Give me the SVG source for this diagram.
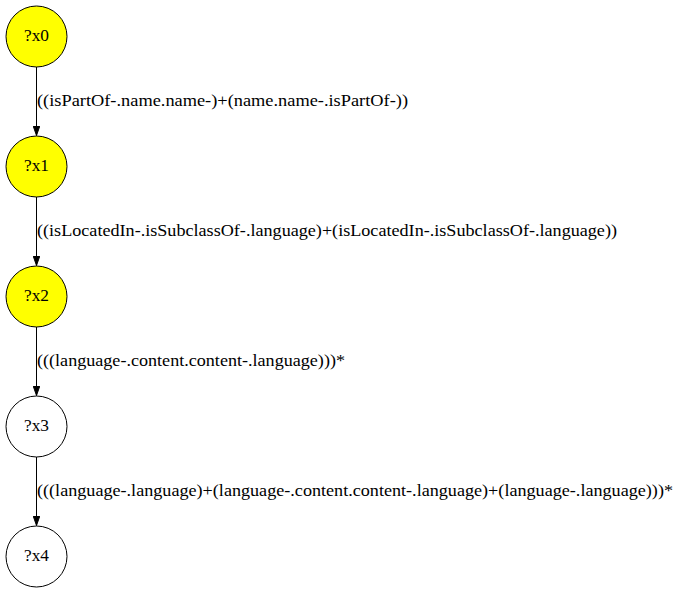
<svg xmlns="http://www.w3.org/2000/svg" width="679" height="595" viewBox="0 0 679 595">
<defs>
<marker id="arr" markerWidth="10" markerHeight="7" refX="10" refY="3.5" orient="auto" markerUnits="userSpaceOnUse">
<polygon points="0,0 10,3.5 0,7" fill="#000" stroke="#000" stroke-width="1"/>
</marker>
</defs>
<style>
.n{stroke:#000;stroke-width:1}
.y{fill:#ffff00}
.w{fill:#fff}
text{font-family:"Liberation Serif","Times New Roman",serif;font-size:17px;fill:#000}
.c{text-anchor:middle}
.e{stroke:#000;stroke-width:1;fill:none}
</style>
<rect width="679" height="595" fill="#fff"/>
<g id="edges">
<line class="e" x1="36.5" y1="67" x2="36.5" y2="135.5" marker-end="url(#arr)"/>
<line class="e" x1="36.5" y1="197" x2="36.5" y2="265.5" marker-end="url(#arr)"/>
<line class="e" x1="36.5" y1="327" x2="36.5" y2="395.5" marker-end="url(#arr)"/>
<line class="e" x1="36.5" y1="457" x2="36.5" y2="525.5" marker-end="url(#arr)"/>
<text x="37" y="106" textLength="371" lengthAdjust="spacingAndGlyphs">((isPartOf-.name.name-)+(name.name-.isPartOf-))</text>
<text x="37" y="236" textLength="580" lengthAdjust="spacingAndGlyphs">((isLocatedIn-.isSubclassOf-.language)+(isLocatedIn-.isSubclassOf-.language))</text>
<text x="37" y="366" textLength="308" lengthAdjust="spacingAndGlyphs">(((language-.content.content-.language)))*</text>
<text x="37" y="496" textLength="636" lengthAdjust="spacingAndGlyphs">(((language-.language)+(language-.content.content-.language)+(language-.language)))*</text>
</g>
<g id="x0"><circle class="n y" cx="36.5" cy="36.5" r="30.5"/><text class="c" x="36.5" y="40.5" textLength="25" lengthAdjust="spacingAndGlyphs">?x0</text></g>
<g id="x1"><circle class="n y" cx="36.5" cy="166.5" r="30.5"/><text class="c" x="36.5" y="170.5" textLength="25" lengthAdjust="spacingAndGlyphs">?x1</text></g>
<g id="x2"><circle class="n y" cx="36.5" cy="296.5" r="30.5"/><text class="c" x="36.5" y="300.5" textLength="25" lengthAdjust="spacingAndGlyphs">?x2</text></g>
<g id="x3"><circle class="n w" cx="36.5" cy="426.5" r="30.5"/><text class="c" x="36.5" y="430.5" textLength="25" lengthAdjust="spacingAndGlyphs">?x3</text></g>
<g id="x4"><circle class="n w" cx="36.5" cy="556.5" r="30.5"/><text class="c" x="36.5" y="560.5" textLength="25" lengthAdjust="spacingAndGlyphs">?x4</text></g>
</svg>
